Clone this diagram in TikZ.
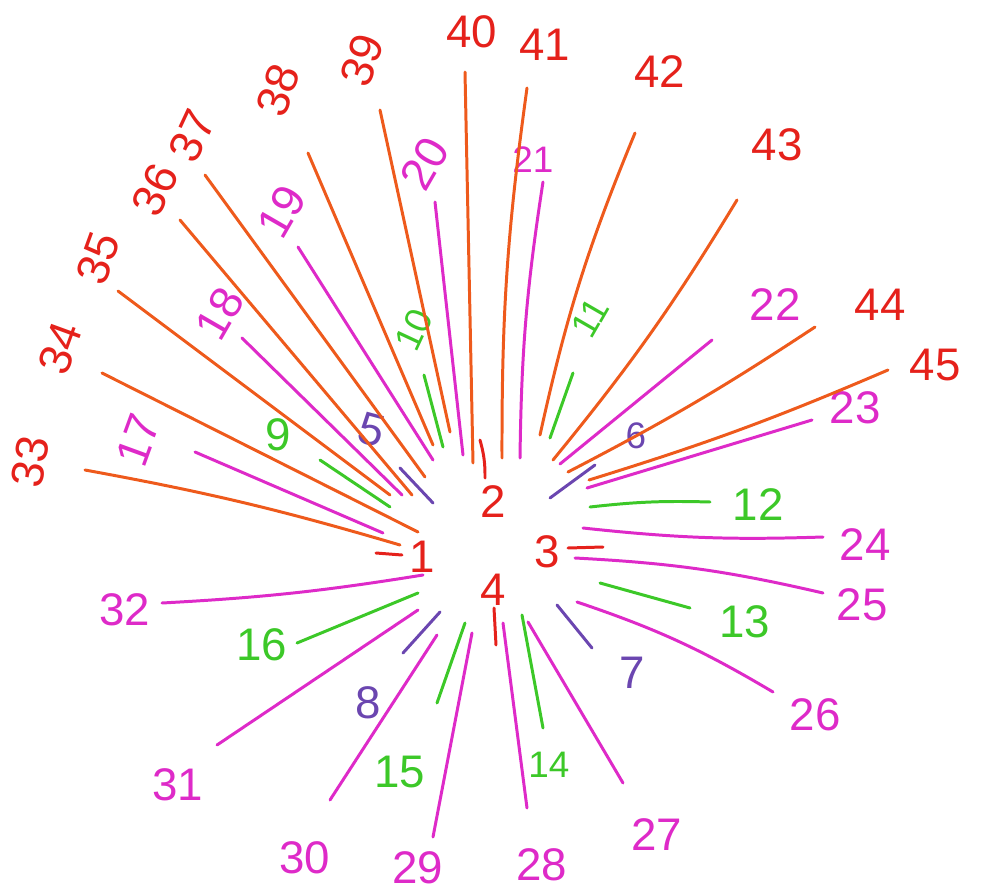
\documentclass[tikz,border=0pt]{standalone}
\usepackage{fontspec}
\setmainfont{Liberation Sans}
\usepackage{tikz}
\usetikzlibrary{positioning}
\definecolor{penred}{HTML}{E5211B}
\definecolor{penorange}{HTML}{EE5A1C}
\definecolor{penmagenta}{HTML}{DE2AC8}
\definecolor{pengreen}{HTML}{3CC828}
\definecolor{penpurple}{HTML}{6B46B0}

\begin{document}
\begin{tikzpicture}[
  x=0.02cm, y=-0.02cm,
  ray/.style={line width=1.7pt, line cap=round},
  lbl/.style={inner sep=0pt, font=\fontsize{26}{26}\selectfont},
  smlbl/.style={inner sep=0pt, font=\fontsize{21}{21}\selectfont},
  redl/.style={ray, color=penred},
  orl/.style={ray, color=penorange},
  mgl/.style={ray, color=penmagenta},
  grl/.style={ray, color=pengreen},
  pul/.style={ray, color=penpurple}
]
\useasboundingbox (0,0) rectangle (991,896);

% Centre numbers
\node[lbl, text=penred] (lab1) at (422,557) {1};
\node[lbl, text=penred] (lab2) at (493,502) {2};
\node[lbl, text=penred] (lab3) at (547,552) {3};
\node[lbl, text=penred] (lab4) at (493,590) {4};

\coordinate (a1) at (402,555); \coordinate (b1) at (376,553);
\coordinate (a2) at (485,478); \coordinate (b2) at (480,440);
\coordinate (a3) at (568,548); \coordinate (b3) at (603,547);
\coordinate (a4) at (494,608); \coordinate (b4) at (496,645);
\draw[redl] (a1) -- (b1);
\draw[redl] (a2) to[bend right=8] (b2);
\draw[redl] (a3) -- (b3);
\draw[redl] (a4) -- (b4);

% Purple rays
\coordinate (a5) at (433,503); \coordinate (b5) at (400,468);
\coordinate (a6) at (550,498); \coordinate (b6) at (595,465);
\coordinate (a7) at (557,605); \coordinate (b7) at (592,648);
\coordinate (a8) at (440,612); \coordinate (b8) at (403,653);
\node[lbl, text=penpurple, rotate=-15] (lab5) at (372,430) {5};
\node[smlbl, text=penpurple] (lab6) at (636,436) {6};
\node[lbl, text=penpurple] (lab7) at (632,673) {7};
\node[lbl, text=penpurple] (lab8) at (368,703) {8};
\draw[pul] (a5) -- (b5);
\draw[pul] (a6) -- (b6);
\draw[pul] (a7) -- (b7);
\draw[pul] (a8) -- (b8);

% Green rays
\coordinate (a9) at (390,507); \coordinate (b9) at (320,460);
\coordinate (a10) at (443,447); \coordinate (b10) at (424,375);
\coordinate (a11) at (550,438); \coordinate (b11) at (573,373);
\coordinate (a12) at (590,507); \coordinate (b12) at (710,502);
\coordinate (a13) at (600,583); \coordinate (b13) at (690,608);
\coordinate (a14) at (522,615); \coordinate (b14) at (543,728);
\coordinate (a15) at (465,623); \coordinate (b15) at (437,703);
\coordinate (a16) at (418,593); \coordinate (b16) at (297,643);
\node[lbl, text=pengreen] (lab9) at (278,435) {9};
\node[smlbl, text=pengreen, rotate=65] (lab10) at (414,330) {10};
\node[smlbl, text=pengreen, rotate=60] (lab11) at (590,318) {11};
\node[lbl, text=pengreen] (lab12) at (758,505) {12};
\node[lbl, text=pengreen] (lab13) at (745,622) {13};
\node[smlbl, text=pengreen] (lab14) at (549,765) {14};
\node[lbl, text=pengreen] (lab15) at (400,772) {15};
\node[lbl, text=pengreen] (lab16) at (262,645) {16};
\draw[grl] (a9) -- (b9);
\draw[grl] (a10) -- (b10);
\draw[grl] (a11) -- (b11);
\draw[grl] (a12) to[bend left=4] (b12);
\draw[grl] (a13) -- (b13);
\draw[grl] (a14) -- (b14);
\draw[grl] (a15) -- (b15);
\draw[grl] (a16) -- (b16);

% Magenta rays
\coordinate (a17) at (383,533); \coordinate (b17) at (195,452);
\coordinate (a18) at (402,495); \coordinate (b18) at (242,338);
\coordinate (a19) at (433,460); \coordinate (b19) at (298,247);
\coordinate (a20) at (463,455); \coordinate (b20) at (435,202);
\coordinate (a21) at (520,458); \coordinate (b21) at (543,182);
\coordinate (a22) at (560,464); \coordinate (b22) at (712,340);
\coordinate (a23) at (587,488); \coordinate (b23) at (812,420);
\coordinate (a24) at (583,528); \coordinate (b24) at (823,537);
\coordinate (a25) at (575,558); \coordinate (b25) at (823,593);
\coordinate (a26) at (577,602); \coordinate (b26) at (773,692);
\coordinate (a27) at (528,622); \coordinate (b27) at (623,783);
\coordinate (a28) at (503,623); \coordinate (b28) at (527,808);
\coordinate (a29) at (472,633); \coordinate (b29) at (433,837);
\coordinate (a30) at (437,635); \coordinate (b30) at (330,800);
\coordinate (a31) at (418,610); \coordinate (b31) at (217,745);
\coordinate (a32) at (423,575); \coordinate (b32) at (162,603);
\node[lbl, text=penmagenta, rotate=70] (lab17) at (138,440) {17};
\node[lbl, text=penmagenta, rotate=60] (lab18) at (220,314) {18};
\node[lbl, text=penmagenta, rotate=60] (lab19) at (282,212) {19};
\node[lbl, text=penmagenta, rotate=60] (lab20) at (425,164) {20};
\node[smlbl, text=penmagenta] (lab21) at (533,160) {21};
\node[lbl, text=penmagenta] (lab22) at (775,305) {22};
\node[lbl, text=penmagenta] (lab23) at (855,408) {23};
\node[lbl, text=penmagenta] (lab24) at (865,545) {24};
\node[lbl, text=penmagenta] (lab25) at (862,605) {25};
\node[lbl, text=penmagenta] (lab26) at (815,715) {26};
\node[lbl, text=penmagenta] (lab27) at (657,835) {27};
\node[lbl, text=penmagenta] (lab28) at (542,865) {28};
\node[lbl, text=penmagenta] (lab29) at (418,868) {29};
\node[lbl, text=penmagenta] (lab30) at (305,858) {30};
\node[lbl, text=penmagenta] (lab31) at (178,785) {31};
\node[lbl, text=penmagenta] (lab32) at (125,610) {32};
\draw[mgl] (a17) -- (b17);
\draw[mgl] (a18) -- (b18);
\draw[mgl] (a19) -- (b19);
\draw[mgl] (a20) -- (b20);
\draw[mgl] (a21) to[bend left=4] (b21);
\draw[mgl] (a22) -- (b22);
\draw[mgl] (a23) -- (b23);
\draw[mgl] (a24) to[bend right=4] (b24);
\draw[mgl] (a25) to[bend left=5] (b25);
\draw[mgl] (a26) to[bend left=6] (b26);
\draw[mgl] (a27) -- (b27);
\draw[mgl] (a28) -- (b28);
\draw[mgl] (a29) -- (b29);
\draw[mgl] (a30) -- (b30);
\draw[mgl] (a31) -- (b31);
\draw[mgl] (a32) to[bend left=3] (b32);

% Orange rays
\coordinate (a33) at (400,545); \coordinate (b33) at (85,470);
\coordinate (a34) at (418,532); \coordinate (b34) at (102,373);
\coordinate (a35) at (390,495); \coordinate (b35) at (118,291);
\coordinate (a36) at (412,495); \coordinate (b36) at (180,220);
\coordinate (a37) at (425,477); \coordinate (b37) at (205,175);
\coordinate (a38) at (433,445); \coordinate (b38) at (308,153);
\coordinate (a39) at (450,432); \coordinate (b39) at (380,110);
\coordinate (a40) at (473,463); \coordinate (b40) at (465,72);
\coordinate (a41) at (502,458); \coordinate (b41) at (527,88);
\coordinate (a42) at (540,435); \coordinate (b42) at (635,133);
\coordinate (a43) at (553,460); \coordinate (b43) at (737,200);
\coordinate (a44) at (568,472); \coordinate (b44) at (815,327);
\coordinate (a45) at (589,480); \coordinate (b45) at (888,370);
\node[lbl, text=penred, rotate=80] (lab33) at (30,462) {33};
\node[lbl, text=penred, rotate=70] (lab34) at (60,348) {34};
\node[lbl, text=penred, rotate=70] (lab35) at (98,258) {35};
\node[lbl, text=penred, rotate=65] (lab36) at (155,190) {36};
\node[lbl, text=penred, rotate=65] (lab37) at (192,136) {37};
\node[lbl, text=penred, rotate=70] (lab38) at (278,90) {38};
\node[lbl, text=penred, rotate=70] (lab39) at (362,60) {39};
\node[lbl, text=penred] (lab40) at (472,32) {40};
\node[lbl, text=penred] (lab41) at (545,45) {41};
\node[lbl, text=penred] (lab42) at (660,72) {42};
\node[lbl, text=penred] (lab43) at (777,145) {43};
\node[lbl, text=penred] (lab44) at (880,305) {44};
\node[lbl, text=penred] (lab45) at (935,365) {45};
\draw[orl] (a33) to[bend right=3] (b33);
\draw[orl] (a34) -- (b34);
\draw[orl] (a35) -- (b35);
\draw[orl] (a36) -- (b36);
\draw[orl] (a37) -- (b37);
\draw[orl] (a38) -- (b38);
\draw[orl] (a39) -- (b39);
\draw[orl] (a40) -- (b40);
\draw[orl] (a41) to[bend left=4] (b41);
\draw[orl] (a42) to[bend left=5] (b42);
\draw[orl] (a43) to[bend right=4] (b43);
\draw[orl] (a44) to[bend right=3] (b44);
\draw[orl] (a45) to[bend right=3] (b45);

\end{tikzpicture}
\end{document}
